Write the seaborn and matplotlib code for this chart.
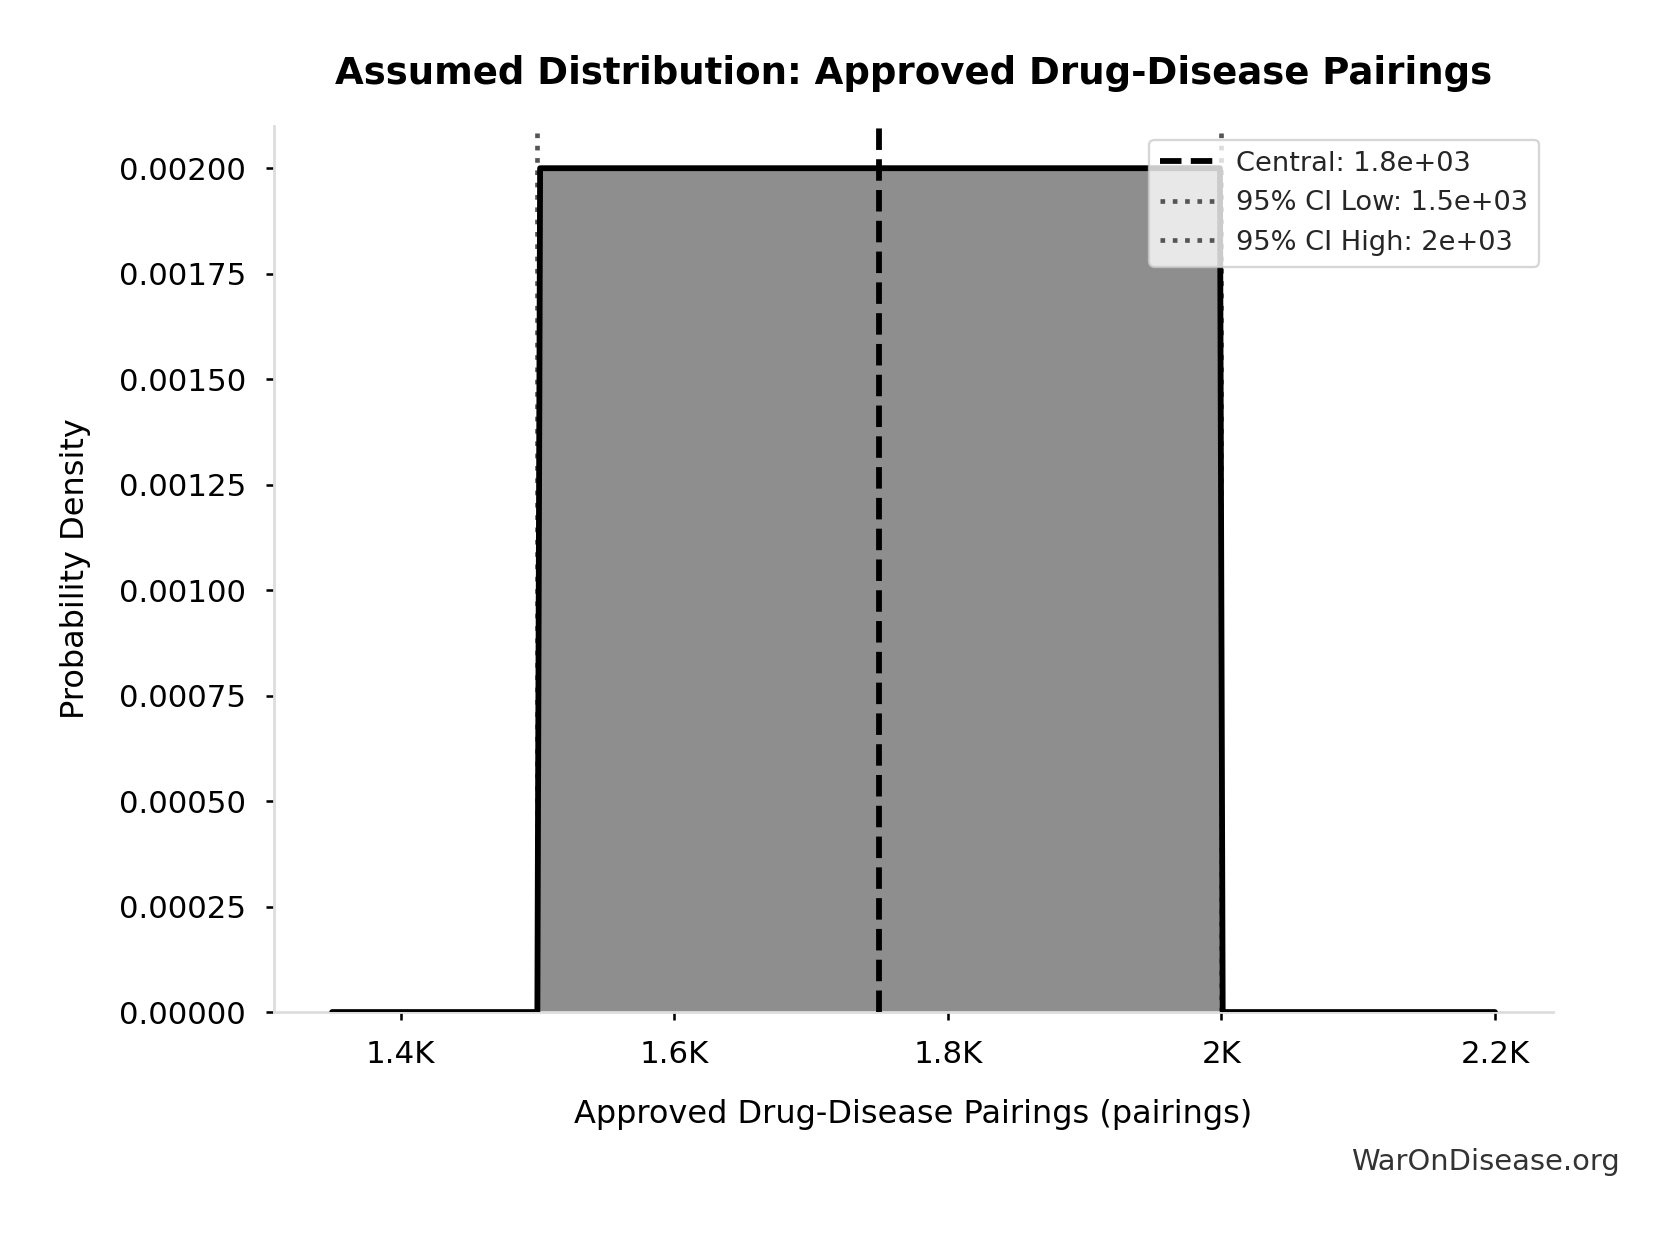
import matplotlib
matplotlib.use("Agg")
import matplotlib.pyplot as plt
import matplotlib.ticker as mticker
import seaborn as sns
import pandas as pd

# Data
x_values = [1350, 1500, 1502, 1999, 2001, 2200]
density = [0.0, 0.0, 0.002, 0.002, 0.0, 0.0]
central = 1750
ci_low = 1500
ci_high = 2000
title = "Assumed Distribution: Approved Drug-Disease Pairings"
xlabel = "Approved Drug-Disease Pairings (pairings)"
ylabel = "Probability Density"
y_ticks = [0.0, 0.00025, 0.0005, 0.00075, 0.001, 0.00125, 0.0015, 0.00175, 0.002]
x_ticks = [1400, 1600, 1800, 2000, 2200]

sns.set_theme(style="white")
plt.rcParams["font.family"] = ["DejaVu Sans"]

DPI = 167.3
fig = plt.figure(figsize=(1673 / DPI, 1233 / DPI), dpi=DPI)
ax = fig.add_axes([0.1638, 0.1792, 0.9283 - 0.1638, 0.8978 - 0.1792])

df = pd.DataFrame({"x": x_values, "y": density})
ax.fill_between(df["x"], df["y"], color="#8e8e8e", zorder=1, linewidth=0)
sns.lineplot(data=df, x="x", y="y", ax=ax, color="black", linewidth=2.5, zorder=3,
             estimator=None, sort=False)

ax.axvline(central, color="black", linestyle="--", linewidth=2.5, zorder=4,
           label=f"Central: {central:.2g}")
ax.axvline(ci_low, color="#555555", linestyle=":", linewidth=2, zorder=2,
           label=f"95% CI Low: {ci_low:.2g}")
ax.axvline(ci_high, color="#555555", linestyle=":", linewidth=2, zorder=2,
           label=f"95% CI High: {ci_high:.2g}")

ax.set_xlim(1307.5, 2242.5)
ax.set_ylim(0, 0.0021)
ax.set_yticks(y_ticks)
ax.set_xticks(x_ticks)
ax.yaxis.set_major_formatter(mticker.FormatStrFormatter("%.5f"))

def kfmt(v, pos):
    s = f"{v / 1000:.1f}".rstrip("0").rstrip(".")
    return s + "K"

ax.xaxis.set_major_formatter(mticker.FuncFormatter(kfmt))

ax.tick_params(axis="both", which="major", labelsize=13.3, length=3.5, width=1.1,
               color="black", bottom=True, left=True, pad=8.5, labelcolor="black")

for side in ["top", "right"]:
    ax.spines[side].set_visible(False)
for side in ["left", "bottom"]:
    ax.spines[side].set_color("#dddddd")
    ax.spines[side].set_linewidth(1.2)

ax.set_title(title, fontsize=16, fontweight="bold", pad=18, color="black")
ax.set_xlabel(xlabel, fontsize=13.8, labelpad=13, color="black")
ax.set_ylabel(ylabel, fontsize=13.8, labelpad=12, color="black")

leg = ax.legend(loc="upper right", fontsize=11.75, frameon=True, framealpha=0.8,
                edgecolor="#cccccc", facecolor="white")

fig.text(0.968, 0.051, "WarOnDisease.org", ha="right", va="baseline",
         fontsize=12.5, color="#333333")

fig.savefig("out.png", dpi=DPI)
